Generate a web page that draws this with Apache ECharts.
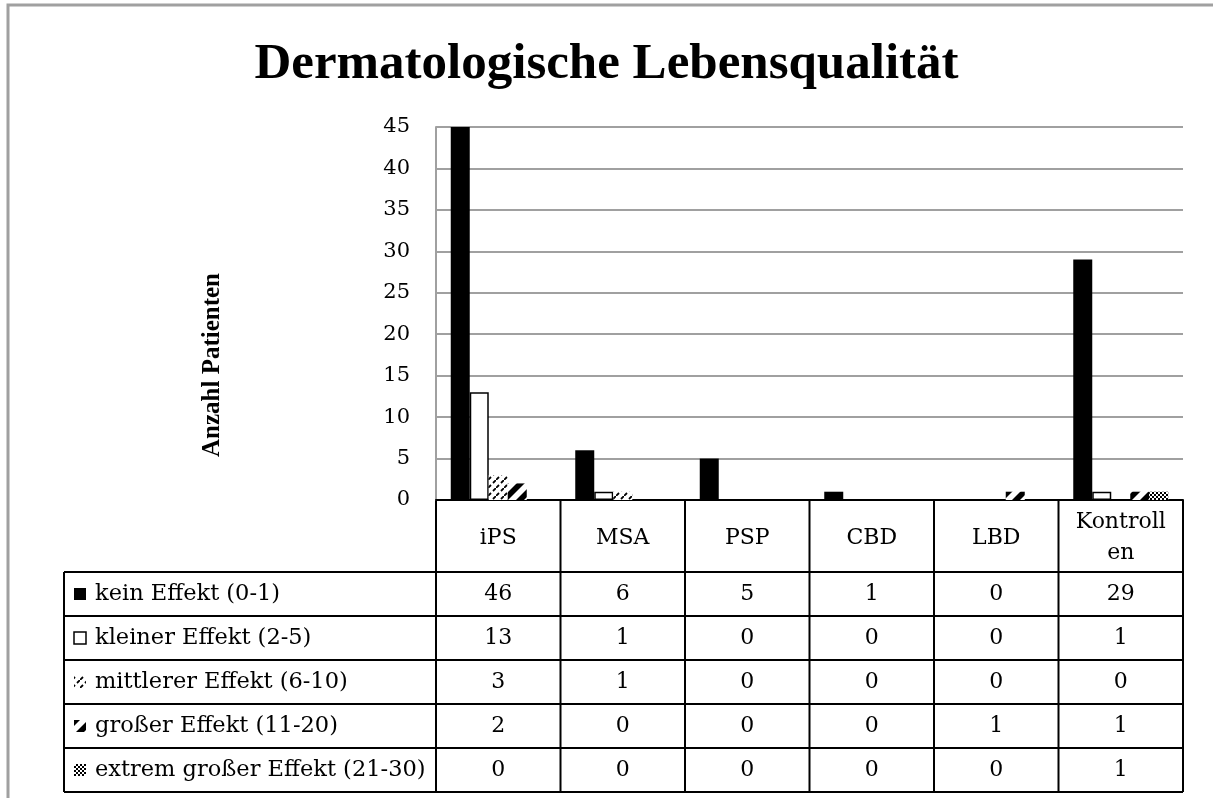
<!DOCTYPE html>
<html>
<head>
<meta charset="utf-8">
<script src="https://cdn.jsdelivr.net/npm/echarts@6/dist/echarts.min.js"></script>
<style>
html, body { margin: 0; padding: 0; background: #fff; }
#chart { width: 1213px; height: 798px; }
</style>
</head>
<body>
<div id="chart"></div>
<script>
// Daten
const categories = ['iPS', 'MSA', 'PSP', 'CBD', 'LBD', 'Kontrollen'];
const seriesNames = [
  'kein Effekt (0-1)',
  'kleiner Effekt (2-5)',
  'mittlerer Effekt (6-10)',
  'großer Effekt (11-20)',
  'extrem großer Effekt (21-30)'
];
const keinEffekt = [46, 6, 5, 1, 0, 29];
const kleinerEffekt = [13, 1, 0, 0, 0, 1];
const mittlererEffekt = [3, 1, 0, 0, 0, 0];
const grosserEffekt = [2, 0, 0, 0, 1, 1];
const extremEffekt = [0, 0, 0, 0, 0, 1];
const yMin = 0, yMax = 45, yStep = 5;

const TITLE_FONT = '"Liberation Serif", serif';
const FONT = '"DejaVu Serif", serif';

// Muster-Kacheln fuer die Balken
function tile(size, draw) {
  let c = document.createElement('canvas');
  c.width = size; c.height = size;
  let ctx = c.getContext('2d');
  ctx.fillStyle = '#fff';
  ctx.fillRect(0, 0, size, size);
  ctx.fillStyle = '#000';
  ctx.strokeStyle = '#000';
  draw(ctx);
  return c;
}

const dashTile = tile(8, ctx => {
  ctx.lineWidth = 1.8;
  ctx.beginPath();
  ctx.moveTo(0, 8); ctx.lineTo(3, 5);
  ctx.moveTo(5, 3); ctx.lineTo(8, 0);
  ctx.stroke();
});

const wideTile = tile(16, ctx => {
  ctx.beginPath();
  ctx.moveTo(0, 8); ctx.lineTo(8, 0); ctx.lineTo(16, 0); ctx.lineTo(0, 16);
  ctx.closePath(); ctx.fill();
  ctx.beginPath();
  ctx.moveTo(16, 8); ctx.lineTo(16, 16); ctx.lineTo(8, 16);
  ctx.closePath(); ctx.fill();
});

const checkTile = tile(4, ctx => {
  ctx.fillRect(0, 0, 2, 2);
  ctx.fillRect(2, 2, 2, 2);
});

const fills = [
  '#000',
  '#fff',
  { image: dashTile, repeat: 'repeat' },
  { image: wideTile, repeat: 'repeat' },
  { image: checkTile, repeat: 'repeat' }
];
const borders = [0, 1.5, 0, 0, 0];
const seriesData = [keinEffekt, kleinerEffekt, mittlererEffekt, grosserEffekt, extremEffekt];

const chart = echarts.init(document.getElementById('chart'));

const gridLeft = 436, gridRight = 1183, gridTop = 127, axisY = 500;
const headerBottom = 572, rowH = 44, legendLeft = 64;

let option = {
  animation: false,
  backgroundColor: '#fff',
  title: {
    text: 'Dermatologische Lebensqualität',
    left: 'center',
    top: 34,
    textStyle: { fontFamily: TITLE_FONT, fontSize: 51, fontWeight: 'bold', color: '#000' }
  },
  grid: { left: gridLeft, right: 1213 - gridRight, top: gridTop, bottom: 798 - axisY, containLabel: false },
  xAxis: {
    type: 'category',
    data: categories,
    axisLine: { lineStyle: { color: '#000', width: 2 } },
    axisTick: { show: false },
    axisLabel: { show: false }
  },
  yAxis: {
    type: 'value',
    min: yMin, max: yMax, interval: yStep,
    axisLine: { show: true, lineStyle: { color: '#a0a0a0', width: 2 } },
    axisTick: { show: false },
    splitLine: { lineStyle: { color: '#a0a0a0', width: 2 } },
    axisLabel: { fontFamily: FONT, fontSize: 21, color: '#000', margin: 26 }
  },
  series: seriesData.map((d, i) => ({
    name: seriesNames[i],
    type: 'bar',
    data: d,
    barWidth: 19,
    barGap: '0%',
    clip: true,
    itemStyle: { color: fills[i], borderColor: '#000', borderWidth: borders[i] }
  }))
};
chart.setOption(option);

// Datentabelle unter der Achse
function buildTable() {
  let els = [];
  let c0 = chart.convertToPixel({ xAxisIndex: 0 }, categories[0]);
  let c1 = chart.convertToPixel({ xAxisIndex: 0 }, categories[1]);
  let cw = c1 - c0;
  let left = c0 - cw / 2;
  let bottom = headerBottom + rowH * seriesNames.length;
  let line = (x1, y1, x2, y2) => ({
    type: 'line', silent: true,
    shape: { x1: x1, y1: y1, x2: x2, y2: y2 },
    style: { stroke: '#000', lineWidth: 2 }
  });
  let text = (x, y, t, align, extra) => ({
    type: 'text', silent: true, x: x, y: y,
    style: Object.assign({
      text: t, fill: '#000', font: '22px ' + FONT,
      align: align, verticalAlign: 'middle'
    }, extra || {})
  });

  // senkrechte Linien
  for (let i = 0; i <= categories.length; i++) {
    els.push(line(left + i * cw, axisY, left + i * cw, bottom));
  }
  els.push(line(legendLeft, headerBottom, legendLeft, bottom));
  // waagrechte Linien
  for (let r = 0; r <= seriesNames.length; r++) {
    let y = headerBottom + r * rowH;
    els.push(line(legendLeft, y, left + categories.length * cw, y));
  }
  // Kopfzeile
  categories.forEach((c, i) => {
    els.push(text(c0 + i * cw, (axisY + headerBottom) / 2 + 2, c, 'center',
      { width: 96, overflow: 'breakAll', lineHeight: 31 }));
  });
  // Zeilen
  seriesNames.forEach((name, r) => {
    let yc = headerBottom + r * rowH + rowH / 2;
    els.push({
      type: 'rect', silent: true,
      shape: { x: legendLeft + 10, y: yc - 6, width: 12, height: 12 },
      style: { fill: fills[r], stroke: '#000', lineWidth: r === 1 ? 1.5 : 0 }
    });
    els.push(text(legendLeft + 31, yc, name, 'left', { font: '22.5px ' + FONT }));
    seriesData[r].forEach((v, i) => {
      els.push(text(c0 + i * cw, yc, String(v), 'center'));
    });
  });

  // Achsentitel
  els.push({
    type: 'text', silent: true, x: 213, y: 365, rotation: Math.PI / 2,
    style: {
      text: 'Anzahl Patienten', fill: '#000', font: 'bold 25px ' + TITLE_FONT,
      align: 'center', verticalAlign: 'middle'
    }
  });
  // Rahmen
  els.push({
    type: 'rect', silent: true,
    shape: { x: 8, y: 5, width: 1220, height: 820 },
    style: { fill: 'none', stroke: '#a0a0a0', lineWidth: 3 }
  });
  chart.setOption({ graphic: els });
}
buildTable();
</script>
</body>
</html>
